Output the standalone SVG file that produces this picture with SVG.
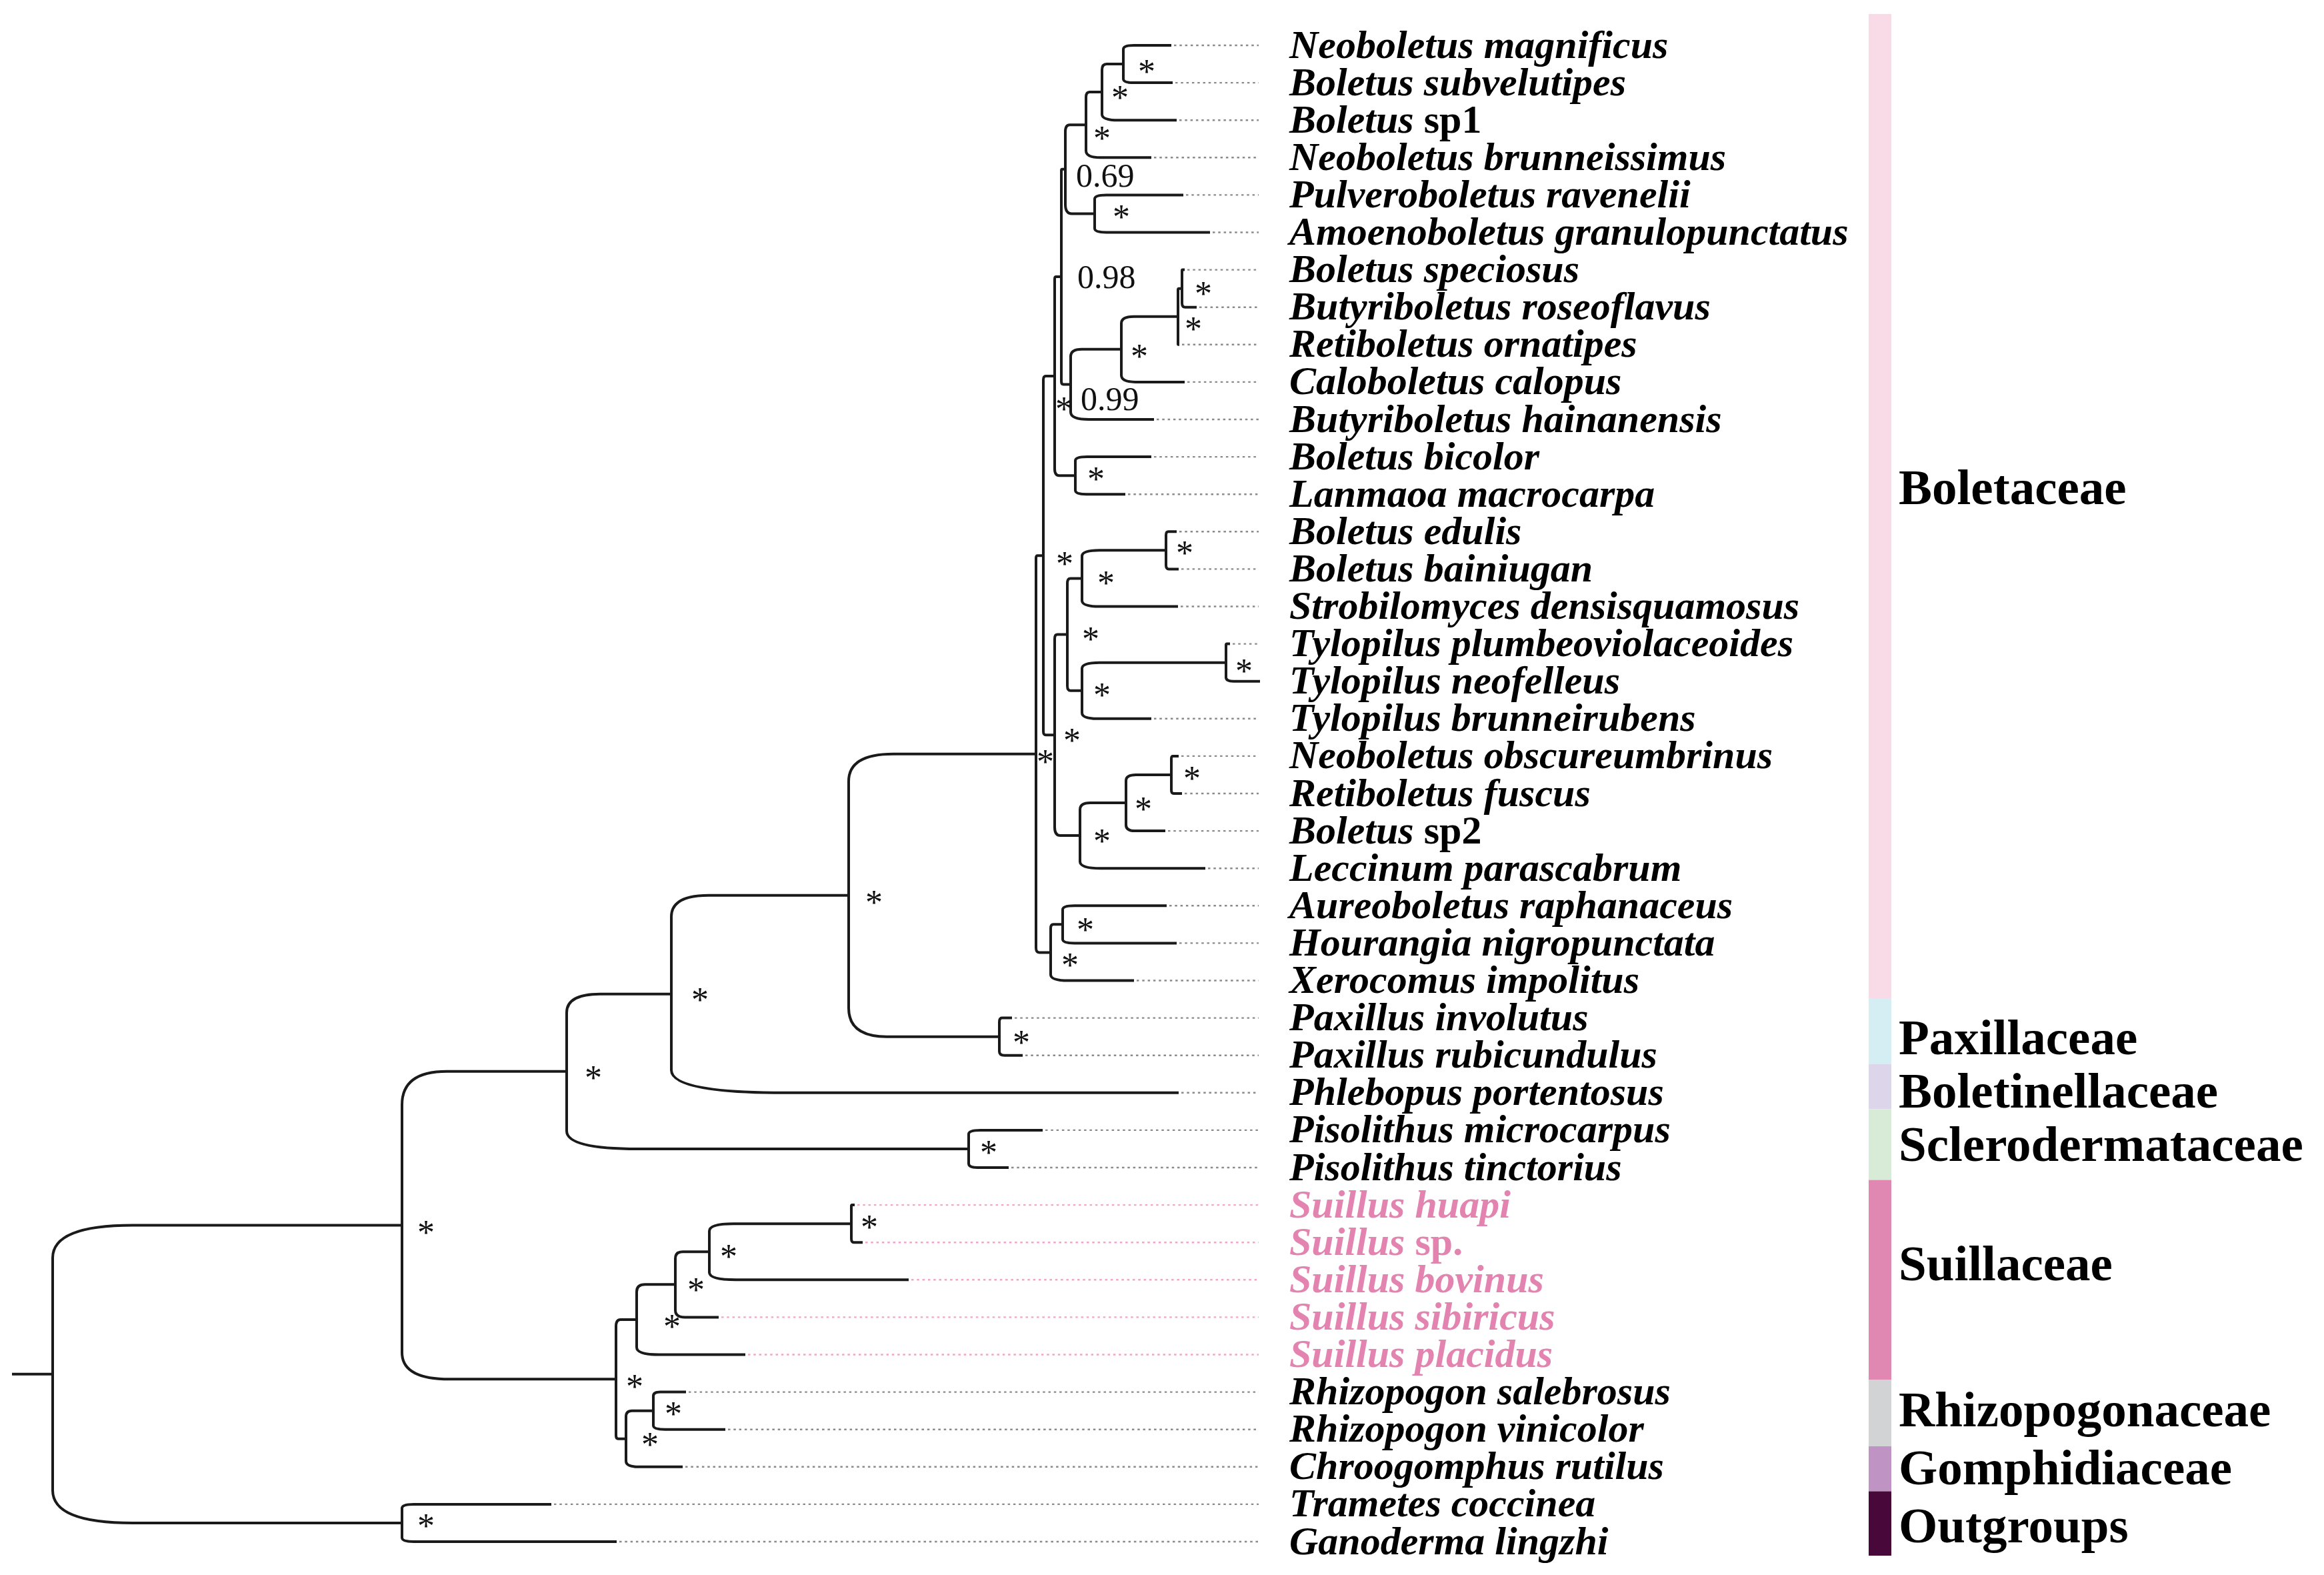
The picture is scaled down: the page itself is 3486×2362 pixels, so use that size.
<svg xmlns="http://www.w3.org/2000/svg" width="3486" height="2362" viewBox="0 0 3486 2362">
<style>
.br{fill:none;stroke:#1a1a1a;stroke-width:4;stroke-linecap:butt}
.dot{fill:none;stroke:#8a8a8a;stroke-width:2.4;stroke-dasharray:3.5 4.8}
.dotp{fill:none;stroke:#f0a6c6;stroke-width:2.4;stroke-dasharray:3.5 4.8}
.leaf{font-family:"Liberation Serif","Times New Roman",serif;font-weight:bold;font-style:italic;font-size:60px;fill:#000}
.up{font-style:normal}
.pink{fill:#e383b0}
.fam{font-family:"Liberation Serif","Times New Roman",serif;font-weight:bold;font-size:75px;fill:#000}
.ast{font-family:"Liberation Serif","Times New Roman",serif;font-size:52px;text-anchor:middle;fill:#111}
.sup{font-family:"Liberation Serif","Times New Roman",serif;font-size:50px;fill:#111}
</style>
<rect width="3486" height="2362" fill="#fff"/>
<g id="connectors">
<path class="dot" d="M1761,68H1888M1763,124.1H1888M1769,180.2H1888M1731,236.3H1888M1779,292.4H1888M1819,348.5H1888M1781,404.6H1888M1799,460.7H1888M1773,516.8H1888M1781,572.9H1888M1735,629H1888M1731,685.1H1888M1692,741.2H1888M1769,797.3H1888M1772,853.4H1888M1771,909.5H1888M1849,965.6H1888M1731,1077.8H1888M1772,1133.9H1888M1777,1190H1888M1752,1246.1H1888M1812,1302.2H1888M1754,1358.3H1888M1769,1414.4H1888M1705,1470.5H1888M1522,1526.6H1888M1538,1582.7H1888M1772,1638.8H1888M1568,1694.9H1888M1517,1751H1888M1033,2087.6H1888M1092,2143.7H1888M1028,2199.8H1888M831,2255.9H1888M929,2312H1888"/>
<path class="dotp" d="M1286,1807.1H1888M1298,1863.2H1888M1367,1919.3H1888M1082,1975.4H1888M1122,2031.5H1888"/>
<path class="br" d="M1685,96.05V73.9Q1685,68 1700.8,68H1757M1685,96.05V118.2Q1685,124.1 1701.3,124.1H1759
M1653,138.1V104.9Q1653,96.05 1660,96.05H1685M1653,138.1V171.4Q1653,180.2 1677.6,180.2H1765
M1629,187.2V146.1Q1629,138.1 1634.3,138.1H1653M1629,187.2V226Q1629,236.3 1650.6,236.3H1727
M1642,320.45V298.3Q1642,292.4 1659.7,292.4H1775M1642,320.45V342.6Q1642,348.5 1659.7,348.5H1815
M1598,253.8V197.4Q1598,187.2 1604.8,187.2H1629M1598,253.8V306.5Q1598,320.45 1607.7,320.45H1642
M1773,432.65V406Q1773,404.6 1773.9,404.6H1777M1773,432.65V454.8Q1773,460.7 1777.8,460.7H1795
M1767,474.7V434.6Q1767,432.65 1768.3,432.65H1773M1767,474.7V515.8Q1767,516.8 1767.4,516.8H1769
M1682,523.8V485Q1682,474.7 1700.7,474.7H1767M1682,523.8V562.6Q1682,572.9 1702.9,572.9H1777
M1606,576.4V534.8Q1606,523.8 1622.7,523.8H1682M1606,576.4V618Q1606,629 1633.5,629H1731
M1592,415.1V255.8Q1592,253.8 1593.3,253.8H1598M1592,415.1V571.7Q1592,576.4 1595.1,576.4H1606
M1613,713.15V691Q1613,685.1 1630.7,685.1H1727M1613,713.15V735.3Q1613,741.2 1629.5,741.2H1688
M1582,564.1V418.4Q1582,415.1 1584.2,415.1H1592M1582,564.1V703Q1582,713.15 1588.8,713.15H1613
M1749,825.35V802.6Q1749,797.3 1752.5,797.3H1765M1749,825.35V847.5Q1749,853.4 1753.2,853.4H1768
M1623,867.4V834.2Q1623,825.35 1649.4,825.35H1749M1623,867.4V900.7Q1623,909.5 1649.4,909.5H1767
M1839,993.65V967.6Q1839,965.6 1840.3,965.6H1845M1839,993.65V1015.8Q1839,1021.7 1850.2,1021.7H1890
M1623,1035.7V1002.5Q1623,993.65 1649.4,993.65H1839M1623,1035.7V1069Q1623,1077.8 1645.9,1077.8H1727
M1601,951.6V874.7Q1601,867.4 1605.8,867.4H1623M1601,951.6V1028.4Q1601,1035.7 1605.8,1035.7H1623
M1757,1161.95V1137.5Q1757,1133.9 1759.4,1133.9H1768M1757,1161.95V1184.7Q1757,1190 1760.5,1190H1773
M1689,1204V1170.75Q1689,1161.95 1704,1161.95H1757M1689,1204V1237.3Q1689,1246.1 1702,1246.1H1748
M1620,1253.1V1214.3Q1620,1204 1635.2,1204H1689M1620,1253.1V1291.9Q1620,1302.2 1650.9,1302.2H1808
M1582,1102.35V957.9Q1582,951.6 1586.2,951.6H1601M1582,1102.35V1240.5Q1582,1253.1 1590.4,1253.1H1620
M1565,833.2V569.7Q1565,564.1 1568.7,564.1H1582M1565,833.2V1096.75Q1565,1102.35 1568.7,1102.35H1582
M1594,1386.35V1364.2Q1594,1358.3 1611.7,1358.3H1750M1594,1386.35V1408.5Q1594,1414.4 1611.7,1414.4H1765
M1576,1428.4V1392.35Q1576,1386.35 1580,1386.35H1594M1576,1428.4V1461.7Q1576,1470.5 1602.4,1470.5H1701
M1554,1130.8V836.8Q1554,833.2 1556.4,833.2H1565M1554,1130.8V1421.2Q1554,1428.4 1558.8,1428.4H1576
M1499,1554.65V1532.5Q1499,1526.6 1503.2,1526.6H1518M1499,1554.65V1576.8Q1499,1582.7 1506.7,1582.7H1534
M1273,1342.7V1171.8Q1273,1130.8 1340,1130.8H1554M1273,1342.7V1511.65Q1273,1554.65 1330,1554.65H1499
M1007,1490.75V1374.7Q1007,1342.7 1063,1342.7H1273M1007,1490.75V1604.8Q1007,1638.8 1177,1638.8H1768
M1453,1722.95V1700.8Q1453,1694.9 1470.7,1694.9H1564M1453,1722.95V1745.1Q1453,1751 1466.2,1751H1513
M850,1606.85V1518.75Q850,1490.75 900,1490.75H1007M850,1606.85V1695.95Q850,1722.95 957,1722.95H1453
M1277,1835.15V1808.8Q1277,1807.1 1278.1,1807.1H1282M1277,1835.15V1857.6Q1277,1863.2 1280.7,1863.2H1294
M1064,1877.2V1846.2Q1064,1835.15 1100,1835.15H1277M1064,1877.2V1908.3Q1064,1919.3 1104,1919.3H1363
M1013,1926.3V1887.5Q1013,1877.2 1024.2,1877.2H1064M1013,1926.3V1965.1Q1013,1975.4 1027.3,1975.4H1078
M955,1978.9V1937.3Q955,1926.3 967.8,1926.3H1013M955,1978.9V2020.5Q955,2031.5 988,2031.5H1118
M980,2115.65V2093.5Q980,2087.6 990.8,2087.6H1029M980,2115.65V2137.8Q980,2143.7 997.7,2143.7H1088
M939,2157.7V2124.45Q939,2115.65 948,2115.65H980M939,2157.7V2191Q939,2199.8 957.7,2199.8H1024
M924,2068.3V1989.1Q924,1978.9 930.8,1978.9H955M924,2068.3V2152.7Q924,2157.7 927.3,2157.7H939
M603,1837.6V1656.85Q603,1606.85 670,1606.85H850M603,1837.6V2028.3Q603,2068.3 674,2068.3H924
M603,2283.95V2261.8Q603,2255.9 620.7,2255.9H827M603,2283.95V2306.1Q603,2312 620.7,2312H925
M79,2060.8V1886.6Q79,1837.6 199,1837.6H603M79,2060.8V2234.95Q79,2283.95 199,2283.95H603
M18,2060.8H79"/>
</g>
<g id="support">
<text class="sup" x="1614" y="280">0.69</text>
<text class="sup" x="1616" y="432">0.98</text>
<text class="sup" x="1621" y="615">0.99</text>
<text class="ast" x="1720" y="125">*</text>
<text class="ast" x="1680" y="164">*</text>
<text class="ast" x="1653" y="225">*</text>
<text class="ast" x="1682" y="343">*</text>
<text class="ast" x="1805" y="458">*</text>
<text class="ast" x="1790" y="511">*</text>
<text class="ast" x="1709" y="552">*</text>
<text class="ast" x="1596" y="631">*</text>
<text class="ast" x="1644" y="736">*</text>
<text class="ast" x="1597" y="863">*</text>
<text class="ast" x="1777" y="847">*</text>
<text class="ast" x="1659" y="892">*</text>
<text class="ast" x="1636" y="976">*</text>
<text class="ast" x="1866" y="1024">*</text>
<text class="ast" x="1653" y="1060">*</text>
<text class="ast" x="1608" y="1128">*</text>
<text class="ast" x="1568" y="1160">*</text>
<text class="ast" x="1788" y="1185">*</text>
<text class="ast" x="1715" y="1231">*</text>
<text class="ast" x="1653" y="1279">*</text>
<text class="ast" x="1628" y="1412">*</text>
<text class="ast" x="1605" y="1465">*</text>
<text class="ast" x="1532" y="1581">*</text>
<text class="ast" x="1311" y="1371">*</text>
<text class="ast" x="1050" y="1517">*</text>
<text class="ast" x="890" y="1634">*</text>
<text class="ast" x="1483" y="1746">*</text>
<text class="ast" x="639" y="1866">*</text>
<text class="ast" x="1304" y="1858">*</text>
<text class="ast" x="1093" y="1902">*</text>
<text class="ast" x="1044" y="1952">*</text>
<text class="ast" x="1008" y="2007">*</text>
<text class="ast" x="952" y="2097">*</text>
<text class="ast" x="1010" y="2138">*</text>
<text class="ast" x="975" y="2184">*</text>
<text class="ast" x="639" y="2306">*</text>
</g>
<g id="leaves" class="leaf">
<g id="leaf-01"><text x="1934" y="86.5">Neoboletus magnificus</text></g>
<g id="leaf-02"><text x="1934" y="142.6">Boletus subvelutipes</text></g>
<g id="leaf-03"><text x="1934" y="198.7">Boletus <tspan class="up">sp1</tspan></text></g>
<g id="leaf-04"><text x="1934" y="254.8">Neoboletus brunneissimus</text></g>
<g id="leaf-05"><text x="1934" y="310.9">Pulveroboletus ravenelii</text></g>
<g id="leaf-06"><text x="1934" y="367">Amoenoboletus granulopunctatus</text></g>
<g id="leaf-07"><text x="1934" y="423.1">Boletus speciosus</text></g>
<g id="leaf-08"><text x="1934" y="479.2">Butyriboletus roseoflavus</text></g>
<g id="leaf-09"><text x="1934" y="535.3">Retiboletus ornatipes</text></g>
<g id="leaf-10"><text x="1934" y="591.4">Caloboletus calopus</text></g>
<g id="leaf-11"><text x="1934" y="647.5">Butyriboletus hainanensis</text></g>
<g id="leaf-12"><text x="1934" y="703.6">Boletus bicolor</text></g>
<g id="leaf-13"><text x="1934" y="759.7">Lanmaoa macrocarpa</text></g>
<g id="leaf-14"><text x="1934" y="815.8">Boletus edulis</text></g>
<g id="leaf-15"><text x="1934" y="871.9">Boletus bainiugan</text></g>
<g id="leaf-16"><text x="1934" y="928">Strobilomyces densisquamosus</text></g>
<g id="leaf-17"><text x="1934" y="984.1">Tylopilus plumbeoviolaceoides</text></g>
<g id="leaf-18"><text x="1934" y="1040.2">Tylopilus neofelleus</text></g>
<g id="leaf-19"><text x="1934" y="1096.3">Tylopilus brunneirubens</text></g>
<g id="leaf-20"><text x="1934" y="1152.4">Neoboletus obscureumbrinus</text></g>
<g id="leaf-21"><text x="1934" y="1208.5">Retiboletus fuscus</text></g>
<g id="leaf-22"><text x="1934" y="1264.6">Boletus <tspan class="up">sp2</tspan></text></g>
<g id="leaf-23"><text x="1934" y="1320.7">Leccinum parascabrum</text></g>
<g id="leaf-24"><text x="1934" y="1376.8">Aureoboletus raphanaceus</text></g>
<g id="leaf-25"><text x="1934" y="1432.9">Hourangia nigropunctata</text></g>
<g id="leaf-26"><text x="1934" y="1489">Xerocomus impolitus</text></g>
<g id="leaf-27"><text x="1934" y="1545.1">Paxillus involutus</text></g>
<g id="leaf-28"><text x="1934" y="1601.2">Paxillus rubicundulus</text></g>
<g id="leaf-29"><text x="1934" y="1657.3">Phlebopus portentosus</text></g>
<g id="leaf-30"><text x="1934" y="1713.4">Pisolithus microcarpus</text></g>
<g id="leaf-31"><text x="1934" y="1769.5">Pisolithus tinctorius</text></g>
<g id="leaf-32"><text class="pink" x="1934" y="1825.6">Suillus huapi</text></g>
<g id="leaf-33"><text class="pink" x="1934" y="1881.7">Suillus <tspan class="up">sp.</tspan></text></g>
<g id="leaf-34"><text class="pink" x="1934" y="1937.8">Suillus bovinus</text></g>
<g id="leaf-35"><text class="pink" x="1934" y="1993.9">Suillus sibiricus</text></g>
<g id="leaf-36"><text class="pink" x="1934" y="2050">Suillus placidus</text></g>
<g id="leaf-37"><text x="1934" y="2106.1">Rhizopogon salebrosus</text></g>
<g id="leaf-38"><text x="1934" y="2162.2">Rhizopogon vinicolor</text></g>
<g id="leaf-39"><text x="1934" y="2218.3">Chroogomphus rutilus</text></g>
<g id="leaf-40"><text x="1934" y="2274.4">Trametes coccinea</text></g>
<g id="leaf-41"><text x="1934" y="2330.5">Ganoderma lingzhi</text></g>
</g>
<g id="families">
<g id="fam-boletaceae"><rect x="2803" y="21" width="34" height="1476" fill="#f8dbe7"/><text class="fam" x="2848" y="756">Boletaceae</text></g>
<g id="fam-paxillaceae"><rect x="2803" y="1497" width="34" height="99" fill="#d5eef4"/><text class="fam" x="2848" y="1581">Paxillaceae</text></g>
<g id="fam-boletinellaceae"><rect x="2803" y="1596" width="34" height="67.5" fill="#ddd5ea"/><text class="fam" x="2848" y="1661">Boletinellaceae</text></g>
<g id="fam-sclerodermataceae"><rect x="2803" y="1663.5" width="34" height="106.1" fill="#d8ebd6"/><text class="fam" x="2848" y="1741">Sclerodermataceae</text></g>
<g id="fam-suillaceae"><rect x="2803" y="1769.6" width="34" height="299.4" fill="#e087b2"/><text class="fam pink" x="2848" y="1920">Suillaceae</text></g>
<g id="fam-rhizopogonaceae"><rect x="2803" y="2069" width="34" height="100" fill="#d2d3d5"/><text class="fam" x="2848" y="2139">Rhizopogonaceae</text></g>
<g id="fam-gomphidiaceae"><rect x="2803" y="2169" width="34" height="67.5" fill="#bf93c3"/><text class="fam" x="2848" y="2226">Gomphidiaceae</text></g>
<g id="fam-outgroups"><rect x="2803" y="2236.5" width="34" height="96.5" fill="#48083a"/><text class="fam" x="2848" y="2313">Outgroups</text></g>
</g>
</svg>
